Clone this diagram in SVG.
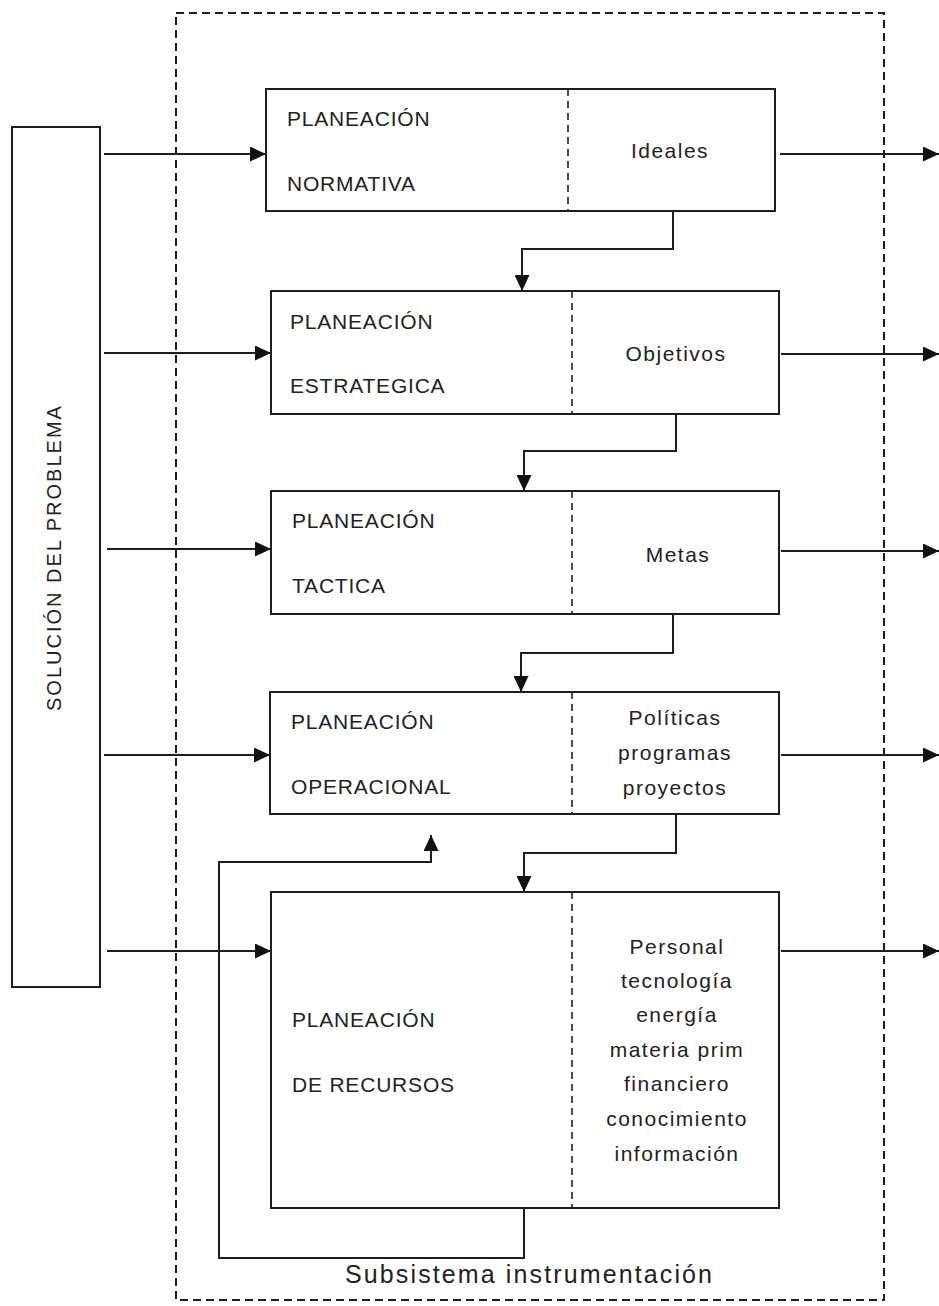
<svg xmlns="http://www.w3.org/2000/svg" width="939" height="1306" viewBox="0 0 939 1306">
<style>
.box{fill:#fff;stroke:#1e1e1e;stroke-width:2}
.div{stroke:#1e1e1e;stroke-width:1.6;stroke-dasharray:7,5;fill:none}
.outer{fill:none;stroke:#1e1e1e;stroke-width:2;stroke-dasharray:8,5}
.arr{fill:none;stroke:#1e1e1e;stroke-width:2;marker-end:url(#ah)}
.cap{font-family:"Liberation Sans",Arial,sans-serif;font-size:21px;fill:#222;letter-spacing:0.8px}
.rt{font-family:"Liberation Sans",Arial,sans-serif;font-size:21px;fill:#222;letter-spacing:1.5px;text-anchor:middle}
.sub{font-family:"Liberation Sans",Arial,sans-serif;font-size:25px;fill:#222}
.side{font-family:"Liberation Sans",Arial,sans-serif;font-size:20px;fill:#222;letter-spacing:2px}
</style>
<defs>
<marker id="ah" markerUnits="userSpaceOnUse" markerWidth="17" markerHeight="15" refX="16" refY="7.5" orient="auto">
<path d="M0,0 L16,7.5 L0,15 z" fill="#111"/>
</marker>
</defs>

<rect id="subsistema" class="outer" x="176" y="13" width="708" height="1287"/>
<text class="sub" x="345" y="1283" textLength="367" lengthAdjust="spacing">Subsistema instrumentación</text>

<g id="solucion">
<rect class="box" x="12" y="127" width="88" height="860"/>
<text class="side" transform="translate(61,711) rotate(-90)">SOLUCIÓN DEL PROBLEMA</text>
</g>

<g id="normativa">
<rect class="box" x="266" y="89" width="509" height="122"/>
<line class="div" x1="568" y1="89" x2="568" y2="211"/>
<text class="cap" x="287" y="126">PLANEACIÓN</text>
<text class="cap" x="287" y="191">NORMATIVA</text>
<text class="rt" x="670" y="158">Ideales</text>
</g>

<g id="estrategica">
<rect class="box" x="271" y="291" width="508" height="123"/>
<line class="div" x1="572" y1="291" x2="572" y2="414"/>
<text class="cap" x="290" y="329">PLANEACIÓN</text>
<text class="cap" x="290" y="393">ESTRATEGICA</text>
<text class="rt" x="676" y="361">Objetivos</text>
</g>

<g id="tactica">
<rect class="box" x="271" y="491" width="508" height="123"/>
<line class="div" x1="572" y1="491" x2="572" y2="614"/>
<text class="cap" x="292" y="528">PLANEACIÓN</text>
<text class="cap" x="292" y="593">TACTICA</text>
<text class="rt" x="678" y="562">Metas</text>
</g>

<g id="operacional">
<rect class="box" x="270" y="692" width="509" height="122"/>
<line class="div" x1="572" y1="692" x2="572" y2="814"/>
<text class="cap" x="291" y="729">PLANEACIÓN</text>
<text class="cap" x="291" y="794">OPERACIONAL</text>
<text class="rt" x="675" y="725">Políticas</text>
<text class="rt" x="675" y="760">programas</text>
<text class="rt" x="675" y="795">proyectos</text>
</g>

<g id="recursos">
<rect class="box" x="271" y="892" width="508" height="316"/>
<line class="div" x1="572" y1="892" x2="572" y2="1208"/>
<text class="cap" x="292" y="1027">PLANEACIÓN</text>
<text class="cap" x="292" y="1092">DE RECURSOS</text>
<text class="rt" x="677" y="954">Personal</text>
<text class="rt" x="677" y="988">tecnología</text>
<text class="rt" x="677" y="1022">energía</text>
<text class="rt" x="677" y="1057">materia prim</text>
<text class="rt" x="677" y="1091">financiero</text>
<text class="rt" x="677" y="1126">conocimiento</text>
<text class="rt" x="677" y="1161">información</text>
</g>

<g id="connectors">
<line class="arr" x1="104" y1="154" x2="266" y2="154"/>
<line class="arr" x1="104" y1="353" x2="271" y2="353"/>
<line class="arr" x1="107" y1="549" x2="271" y2="549"/>
<line class="arr" x1="104" y1="755" x2="270" y2="755"/>
<line class="arr" x1="107" y1="951" x2="271" y2="951"/>

<line class="arr" x1="780" y1="154" x2="939" y2="154"/>
<line class="arr" x1="781" y1="354" x2="939" y2="354"/>
<line class="arr" x1="781" y1="551" x2="939" y2="551"/>
<line class="arr" x1="781" y1="755" x2="939" y2="755"/>
<line class="arr" x1="781" y1="951" x2="939" y2="951"/>

<polyline class="arr" points="673,211 673,249 522,249 522,291"/>
<polyline class="arr" points="676,414 676,451 524,451 524,491"/>
<polyline class="arr" points="673,614 673,653 521,653 521,692"/>
<polyline class="arr" points="676,814 676,853 524,853 524,892"/>
<polyline class="arr" points="524,1208 524,1258 219,1258 219,862 431,862 431,835"/>
</g>
</svg>
